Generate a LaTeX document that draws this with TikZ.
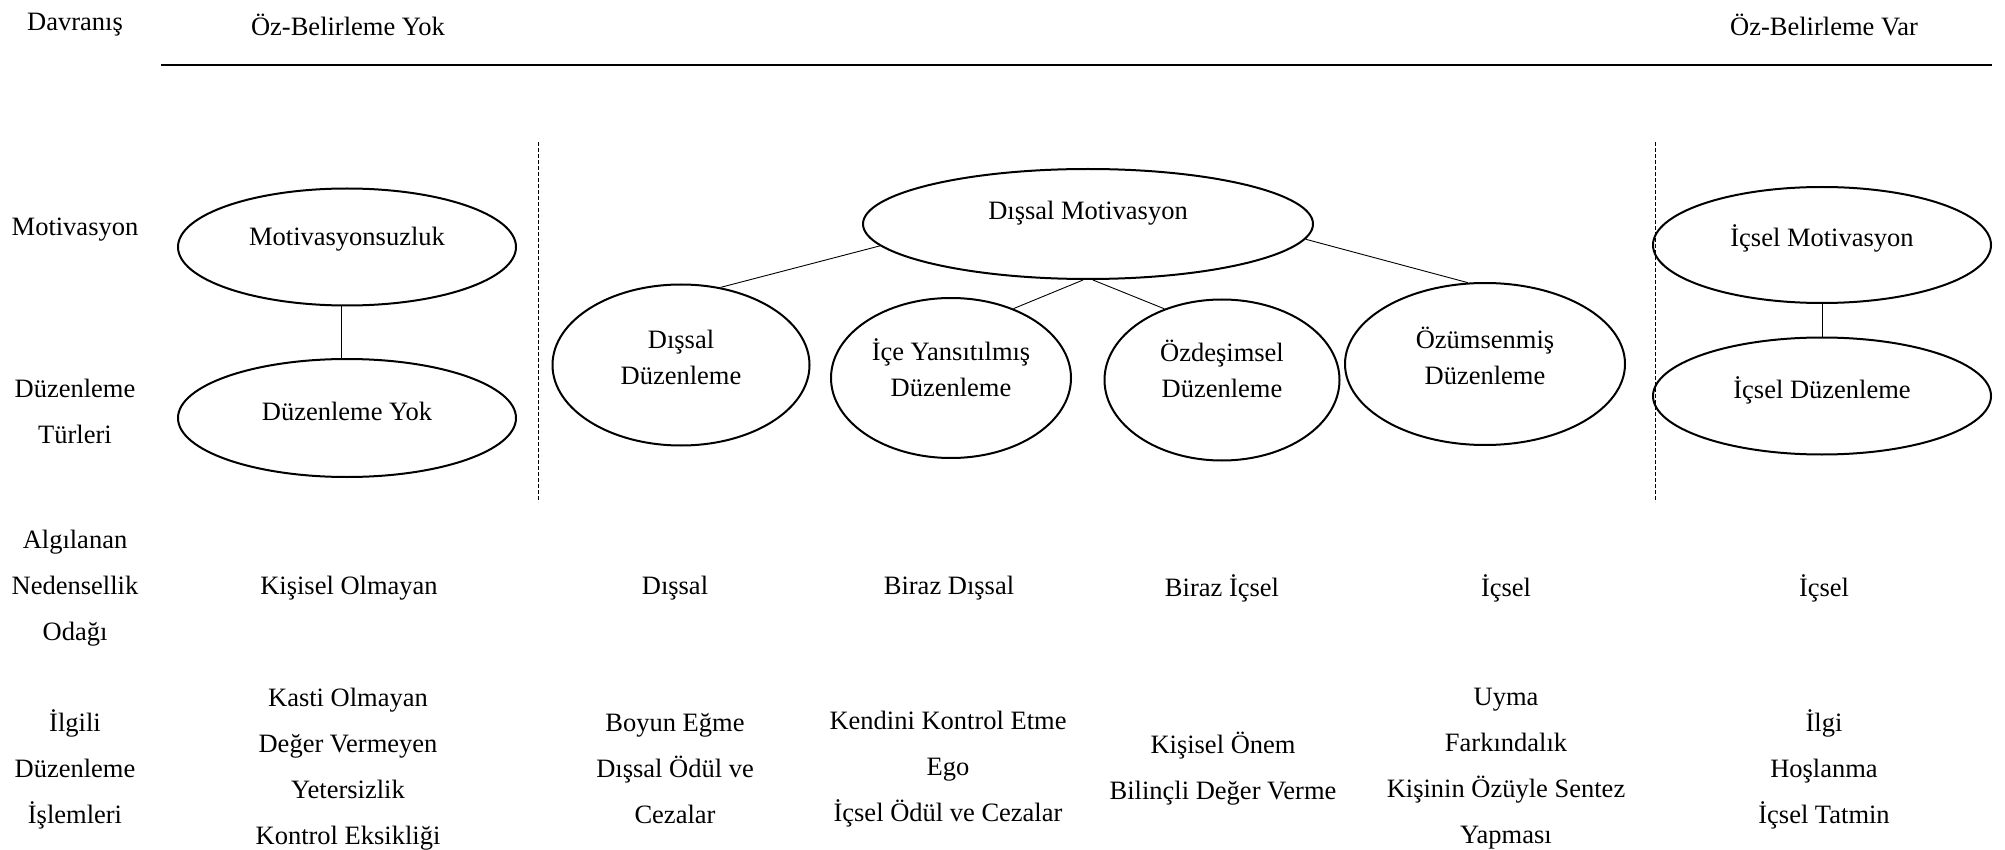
\documentclass[tikz,border=0pt]{standalone}
\usepackage{fontspec}
\setmainfont{Liberation Serif}
\usetikzlibrary{shapes.geometric}
\begin{document}
\begin{tikzpicture}[x=1pt,y=1pt,
  ell/.style={draw, ellipse, line width=2pt, inner sep=0pt},
  lbl/.style={font=\fontsize{26.5}{46}\selectfont, align=center, inner sep=0pt},
  etxt/.style={font=\fontsize{26.5}{36}\selectfont, align=center, inner sep=0pt},
  conn/.style={line width=0.9pt},
  divider/.style={line width=1pt, dash pattern=on 4pt off 2pt},
  rule/.style={line width=2.5pt}]
\useasboundingbox (0,0) rectangle (2005,-850);

% header
\node[lbl] (davr) at (75,-25) {Davranış};
\node[lbl] (ozyok) at (348,-25) {Öz-Belirleme Yok};
\node[lbl] (ozvar) at (1824,-25) {Öz-Belirleme Var};
\coordinate (ruleL) at (161,-65);
\coordinate (ruleR) at (1992,-65);
\draw[rule] (ruleL) -- (ruleR);

% dividers
\coordinate (d1t) at (538,-142);
\coordinate (d1b) at (538,-502);
\coordinate (d2t) at (1655,-142);
\coordinate (d2b) at (1655,-502);
\draw[divider] (d1t) -- (d1b);
\draw[divider] (d2t) -- (d2b);

% row labels
\node[lbl] (motL) at (75,-230) {Motivasyon};
\node[lbl] (dtL) at (75,-411) {Düzenleme\\Türleri};
\node[lbl] (anoL) at (75,-588) {Algılanan\\Nedensellik\\Odağı};
\node[lbl] (idiL) at (75,-769) {İlgili\\Düzenleme\\İşlemleri};

% ellipses
\node[ell, minimum width=338, minimum height=117] (mot) at (347,-247) {};
\node[ell, minimum width=338, minimum height=118] (dy) at (347,-418) {};
\node[ell, minimum width=450, minimum height=110] (dm) at (1088,-224) {};
\node[ell, minimum width=257, minimum height=161] (dd) at (681,-365) {};
\node[ell, minimum width=240, minimum height=160] (iy) at (951,-378) {};
\node[ell, minimum width=235, minimum height=161] (oz) at (1222,-380) {};
\node[ell, minimum width=280, minimum height=162] (ozm) at (1485,-364) {};
\node[ell, minimum width=338, minimum height=116] (im) at (1822,-245) {};
\node[ell, minimum width=338, minimum height=117] (id) at (1822,-396) {};

% ellipse texts
\node[etxt] (motT) at (347,-239) {Motivasyonsuzluk};
\node[etxt] (dyT) at (347,-411) {Düzenleme Yok};
\node[etxt] (dmT) at (1088,-213) {Dışsal Motivasyon};
\node[etxt] (ddT) at (681,-357) {Dışsal\\Düzenleme};
\node[etxt] (iyT) at (951,-368) {İçe Yansıtılmış\\Düzenleme};
\node[etxt] (ozT) at (1222,-369) {Özdeşimsel\\Düzenleme};
\node[etxt] (ozmT) at (1485,-356) {Özümsenmiş\\Düzenleme};
\node[etxt] (imT) at (1822,-238) {İçsel Motivasyon};
\node[etxt] (idT) at (1822,-390) {İçsel Düzenleme};

% connectors
\draw[conn] ([xshift=-6]mot.south) -- ([xshift=-6]dy.north);
\draw[conn] (im.south) -- (id.north);
\draw[conn] (dm.186.5) -- (dd.63);
\draw[conn] (dm.265) -- (iy.48);
\draw[conn] (dm.275) -- (oz.129);
\draw[conn] (dm.356.6) -- (ozm.102);

% perceived locus
\node[lbl] (p1) at (349,-588) {Kişisel Olmayan};
\node[lbl] (p2) at (675,-588) {Dışsal};
\node[lbl] (p3) at (949,-588) {Biraz Dışsal};
\node[lbl] (p4) at (1222,-588) {Biraz İçsel};
\node[lbl] (p5) at (1506,-588) {İçsel};
\node[lbl] (p6) at (1824,-588) {İçsel};

% processes
\node[lbl] (r1) at (348,-769) {Kasti Olmayan\\Değer Vermeyen\\Yetersizlik\\Kontrol Eksikliği};
\node[lbl] (r2) at (675,-769) {Boyun Eğme\\Dışsal Ödül ve\\Cezalar};
\node[lbl] (r3) at (948,-769) {Kendini Kontrol Etme\\Ego\\İçsel Ödül ve Cezalar};
\node[lbl] (r4) at (1223,-769) {Kişisel Önem\\Bilinçli Değer Verme};
\node[lbl] (r5) at (1506,-769) {Uyma\\Farkındalık\\Kişinin Özüyle Sentez\\Yapması};
\node[lbl] (r6) at (1824,-769) {İlgi\\Hoşlanma\\İçsel Tatmin};
\end{tikzpicture}
\end{document}
